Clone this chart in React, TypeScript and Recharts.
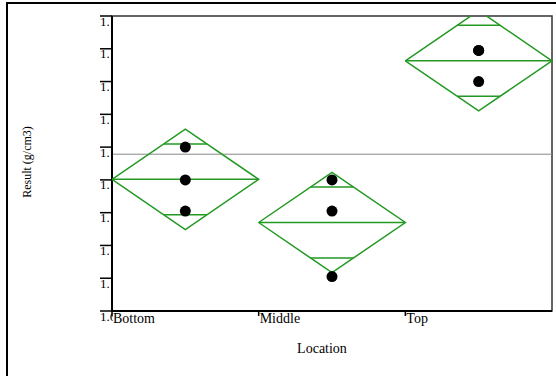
import {
  ComposedChart,
  Scatter,
  XAxis,
  YAxis,
  ReferenceLine,
  ReferenceArea,
} from 'recharts';

// Raw results per location (three replicates each)
const locations = ['Bottom', 'Middle', 'Top'];
const bottomResults = [1.7, 1.68, 1.661];
const middleResults = [1.68, 1.661, 1.621];
const topResults = [1.759, 1.759, 1.74];
const yTicks = [1.6, 1.62, 1.64, 1.66, 1.68, 1.7, 1.72, 1.74, 1.76, 1.78];

// t quantile (0.975) for 6 error degrees of freedom
const T_CRIT = 2.447;

const GREEN = '#229922';
const FONT = '"Liberation Serif", "Times New Roman", serif';

const groups = [bottomResults, middleResults, topResults];
const mean = (v: number[]) => v.reduce((a, b) => a + b, 0) / v.length;

const allValues = groups.flat();
const grandMean = mean(allValues);
const sse = groups.reduce((s, g) => {
  const m = mean(g);
  return s + g.reduce((a, v) => a + (v - m) ** 2, 0);
}, 0);
const dfError = allValues.length - groups.length;
const mse = sse / dfError;

const stats = groups.map((g, i) => {
  const m = mean(g);
  const half = T_CRIT * Math.sqrt(mse / g.length);
  return { i, mean: m, half };
});

// overlap marks sit at mean ± half·√2/2; the diamond is narrower there
const OVL = Math.SQRT2 / 2;
const OVL_HALF_W = 0.5 * (1 - OVL);

const diamonds = stats.map(s => [
  { x: s.i, y: s.mean },
  { x: s.i + 0.5, y: s.mean + s.half },
  { x: s.i + 1, y: s.mean },
  { x: s.i + 0.5, y: s.mean - s.half },
  { x: s.i, y: s.mean },
]);

const points = groups.flatMap((g, i) => g.map(v => ({ x: i + 0.5, y: v })));

const YTick = (props: any) => {
  const { y, payload } = props;
  const bottom = payload.value === yTicks[0];
  const id = `yclip-${payload.value}`;
  return (
    <g>
      <clipPath id={id}>
        <rect x={96} y={y - 2} width={bottom ? 17 : 13} height={16} />
      </clipPath>
      <line x1={100} x2={112} y1={y} y2={y} stroke="#000" strokeWidth={1.5} />
      <text
        x={100}
        y={y + 9.5}
        fontSize={13}
        fontFamily={FONT}
        fill="#000"
        clipPath={`url(#${id})`}
      >
        {payload.value.toFixed(2)}
      </text>
    </g>
  );
};

const XTick = (props: any) => {
  const { x, payload } = props;
  return (
    <g>
      <line x1={x} x2={x} y1={311} y2={316} stroke="#000" strokeWidth={1.5} />
      <text x={x + 1} y={322.5} fontSize={14} fontFamily={FONT} fill="#000">
        {locations[payload.value]}
      </text>
    </g>
  );
};

const noShape = () => <g />;
const dot = (p: any) => <circle cx={p.cx} cy={p.cy} r={5.5} fill="#000" />;

export default function App() {
  return (
    <div style={{ position: 'absolute', left: 0, top: 0, width: 556, height: 376, background: '#fff', overflow: 'hidden' }}>
      <div
        style={{
          position: 'absolute',
          left: 6,
          top: 2,
          width: 560,
          height: 380,
          borderLeft: '2px solid #000',
          borderTop: '2px solid #000',
        }}
      />
      <div style={{ position: 'absolute', left: 0, top: 0 }}>
        <ComposedChart width={556} height={376} margin={{ top: 16, right: 4, bottom: 35, left: 0 }}>
          <XAxis
            type="number"
            dataKey="x"
            domain={[0, 3]}
            ticks={[0, 1, 2]}
            allowDataOverflow
            height={30}
            axisLine={{ stroke: '#000', strokeWidth: 2 }}
            tickLine={false}
            tick={<XTick />}
            label={{
              content: () => (
                <text x={322} y={353} textAnchor="middle" fontSize={14} fontFamily={FONT} fill="#000">
                  Location
                </text>
              ),
            }}
          />
          <YAxis
            type="number"
            dataKey="y"
            domain={[1.6, 1.78]}
            ticks={yTicks}
            allowDataOverflow
            width={112}
            axisLine={{ stroke: '#000', strokeWidth: 2 }}
            tickLine={false}
            tick={<YTick />}
            label={{
              content: () => (
                <text
                  x={27}
                  y={162}
                  transform="rotate(-90 27 162)"
                  textAnchor="middle"
                  dominantBaseline="central"
                  fontSize={12}
                  fontFamily={FONT}
                  fill="#000"
                >
                  Result (g/cm3)
                </text>
              ),
            }}
          />
          <ReferenceArea x1={0} x2={3} y1={1.6} y2={1.78} fill="none" stroke="#333" strokeWidth={1.5} />
          <ReferenceLine y={grandMean} stroke="#888" strokeWidth={1} />
          {diamonds.map((d, i) => (
            <Scatter
              key={`dia-${i}`}
              data={d}
              line={{ stroke: GREEN, strokeWidth: 1.5 }}
              lineType="joint"
              shape={noShape}
              isAnimationActive={false}
            />
          ))}
          {stats.map(s => (
            <ReferenceLine
              key={`mean-${s.i}`}
              segment={[{ x: s.i, y: s.mean }, { x: s.i + 1, y: s.mean }]}
              stroke={GREEN}
              strokeWidth={1.5}
            />
          ))}
          {stats.flatMap(s =>
            [1, -1].map(sign => (
              <ReferenceLine
                key={`ovl-${s.i}-${sign}`}
                segment={[
                  { x: s.i + 0.5 - OVL_HALF_W, y: s.mean + sign * s.half * OVL },
                  { x: s.i + 0.5 + OVL_HALF_W, y: s.mean + sign * s.half * OVL },
                ]}
                stroke={GREEN}
                strokeWidth={1.5}
              />
            ))
          )}
          <Scatter data={points} shape={dot} isAnimationActive={false} />
        </ComposedChart>
      </div>
    </div>
  );
}
